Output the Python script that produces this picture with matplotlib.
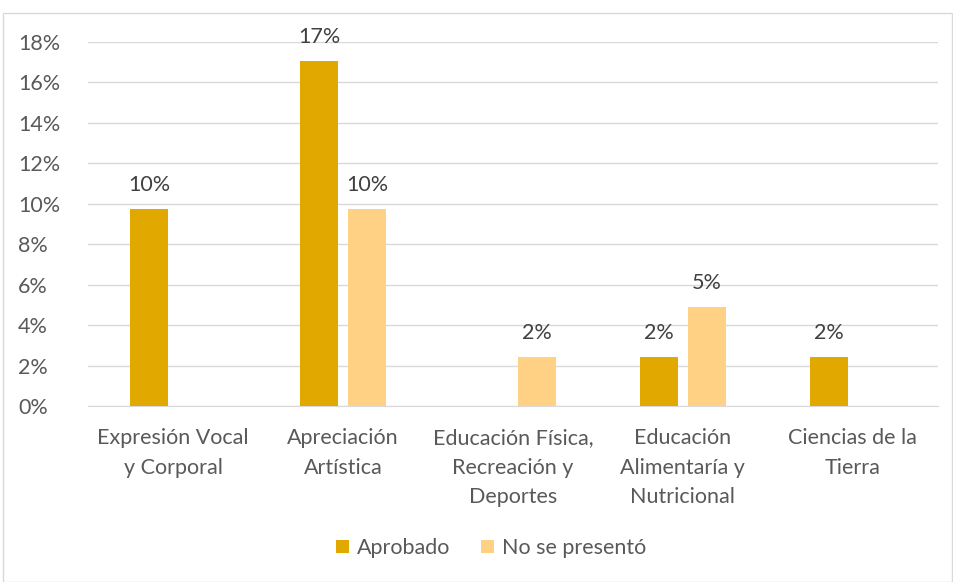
import matplotlib.pyplot as plt
from matplotlib.patches import Rectangle
import numpy as np

plt.rcParams['font.family'] = ['Lato', 'DejaVu Sans']

categories = ["Expresión Vocal\ny Corporal", "Apreciación\nArtística",
              "Educación Física,\nRecreación y\nDeportes", "Educación\nAlimentaría y\nNutricional",
              "Ciencias de la\nTierra"]
aprobado = [9.76, 17.07, 0, 2.44, 2.44]
no_presento = [0, 9.76, 2.44, 4.88, 0]
series_names = ["Aprobado", "No se presentó"]

c1 = "#E1A900"
c2 = "#FFD185"
txt = "#595959"
fs = 15.5

fig = plt.figure(figsize=(9.54, 5.82), dpi=100)
fig.patches.append(Rectangle((0.003, 0.0), 0.995, 0.978, transform=fig.transFigure,
                             fill=False, edgecolor="#D9D9D9", lw=1))
ax = fig.add_axes([0.0922, 0.3024, 0.8908, 0.6254])

x = np.arange(len(categories))
w = 0.224
off = 0.141
b1 = ax.bar(x - off, aprobado, w, color=c1, label=series_names[0], zorder=3)
b2 = ax.bar(x + off, no_presento, w, color=c2, label=series_names[1], zorder=3)

for bars in (b1, b2):
    for b in bars:
        h = b.get_height()
        if h > 0:
            ax.annotate("%d%%" % round(h), (b.get_x() + b.get_width() / 2, h),
                        xytext=(0, 10), textcoords="offset points",
                        ha="center", va="bottom", color="#404040", fontsize=fs)

ax.set_xlim(-0.5, len(categories) - 0.5)
ax.set_ylim(0, 18)
ax.set_yticks(range(0, 19, 2))
ax.set_yticklabels(["%d%%" % v for v in range(0, 19, 2)])
ax.set_xticks(x)
ax.set_xticklabels(categories, linespacing=1.6)
ax.tick_params(axis="both", length=0, colors=txt, labelsize=fs)
ax.tick_params(axis="x", pad=16)
ax.grid(axis="y", color="#D9D9D9", lw=1, zorder=0)
for s in ["top", "right", "left"]:
    ax.spines[s].set_visible(False)
ax.spines["bottom"].set_color("#D9D9D9")
for lab in ax.get_yticklabels():
    lab.set_horizontalalignment("left")
    lab.set_x(-0.0765)

leg = fig.legend(loc="center", bbox_to_anchor=(0.515, 0.058), ncol=2, frameon=False,
                 fontsize=fs, handlelength=0.6, handleheight=0.6, columnspacing=1.4,
                 handletextpad=0.4)
for t in leg.get_texts():
    t.set_color(txt)

fig.savefig("out.png", dpi=100)
